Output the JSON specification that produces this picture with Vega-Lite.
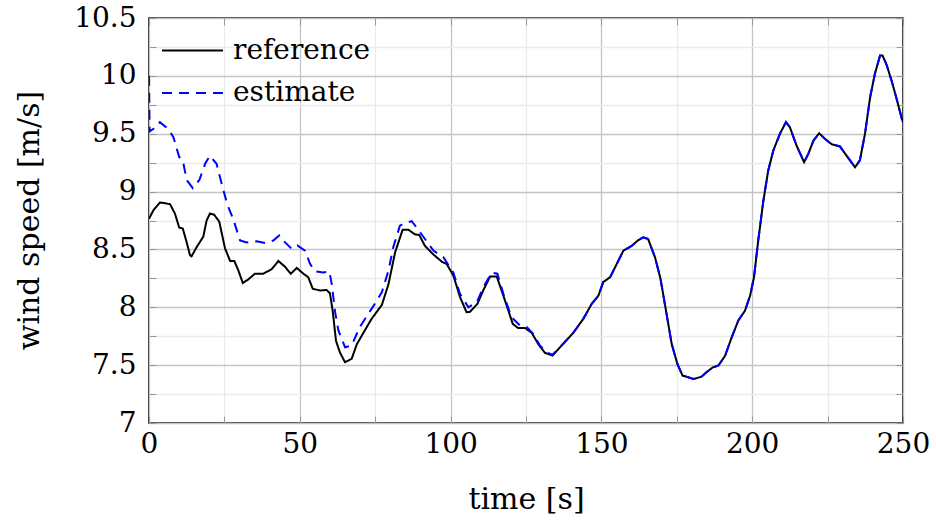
{
  "$schema": "https://vega.github.io/schema/vega-lite/v6.json",
  "width": 754,
  "height": 405,
  "autosize": {"type": "none"},
  "padding": {"left": 149, "top": 18, "right": 33, "bottom": 97},
  "background": "white",
  "config": {
    "font": "DejaVu Serif",
    "view": {"stroke": "black", "strokeWidth": 1.6},
    "legend": {
      "orient": "none",
      "legendX": 27,
      "legendY": 16,
      "symbolType": "M-2,0H2",
      "symbolSize": 930,
      "symbolStrokeWidth": 2,
      "labelFontSize": 28,
      "labelFont": "DejaVu Serif",
      "labelColor": "black",
      "labelLimit": 0,
      "labelOffset": 24,
      "rowPadding": 11.5,
      "padding": 0,
      "title": null
    }
  },
  "datasets": {
    "series": [
      {"t": 0, "v": 8.765, "s": "reference"},
      {"t": 1.5, "v": 8.84, "s": "reference"},
      {"t": 3.6, "v": 8.905, "s": "reference"},
      {"t": 5.3, "v": 8.9, "s": "reference"},
      {"t": 7, "v": 8.89, "s": "reference"},
      {"t": 8.6, "v": 8.81, "s": "reference"},
      {"t": 10, "v": 8.69, "s": "reference"},
      {"t": 11.2, "v": 8.68, "s": "reference"},
      {"t": 12.3, "v": 8.58, "s": "reference"},
      {"t": 13.6, "v": 8.45, "s": "reference"},
      {"t": 14.1, "v": 8.44, "s": "reference"},
      {"t": 15.8, "v": 8.52, "s": "reference"},
      {"t": 18, "v": 8.61, "s": "reference"},
      {"t": 19.1, "v": 8.75, "s": "reference"},
      {"t": 20.2, "v": 8.81, "s": "reference"},
      {"t": 21.6, "v": 8.8, "s": "reference"},
      {"t": 23.3, "v": 8.74, "s": "reference"},
      {"t": 25.2, "v": 8.51, "s": "reference"},
      {"t": 26.9, "v": 8.4, "s": "reference"},
      {"t": 28.3, "v": 8.4, "s": "reference"},
      {"t": 29.6, "v": 8.32, "s": "reference"},
      {"t": 31.1, "v": 8.21, "s": "reference"},
      {"t": 32.9, "v": 8.24, "s": "reference"},
      {"t": 35.1, "v": 8.29, "s": "reference"},
      {"t": 37.9, "v": 8.29, "s": "reference"},
      {"t": 40.7, "v": 8.33, "s": "reference"},
      {"t": 42.9, "v": 8.4, "s": "reference"},
      {"t": 45.1, "v": 8.35, "s": "reference"},
      {"t": 47, "v": 8.29, "s": "reference"},
      {"t": 49, "v": 8.34, "s": "reference"},
      {"t": 51.2, "v": 8.29, "s": "reference"},
      {"t": 52.8, "v": 8.26, "s": "reference"},
      {"t": 54.3, "v": 8.16, "s": "reference"},
      {"t": 56.7, "v": 8.145, "s": "reference"},
      {"t": 58.9, "v": 8.15, "s": "reference"},
      {"t": 60, "v": 8.12, "s": "reference"},
      {"t": 60.9, "v": 7.97, "s": "reference"},
      {"t": 62, "v": 7.71, "s": "reference"},
      {"t": 63.3, "v": 7.61, "s": "reference"},
      {"t": 65, "v": 7.525, "s": "reference"},
      {"t": 67.2, "v": 7.555, "s": "reference"},
      {"t": 68.9, "v": 7.68, "s": "reference"},
      {"t": 71.1, "v": 7.78, "s": "reference"},
      {"t": 73.8, "v": 7.9, "s": "reference"},
      {"t": 77.2, "v": 8.02, "s": "reference"},
      {"t": 79.4, "v": 8.2, "s": "reference"},
      {"t": 81.6, "v": 8.475, "s": "reference"},
      {"t": 84.1, "v": 8.67, "s": "reference"},
      {"t": 86, "v": 8.67, "s": "reference"},
      {"t": 88.2, "v": 8.63, "s": "reference"},
      {"t": 89.6, "v": 8.625, "s": "reference"},
      {"t": 91.5, "v": 8.53, "s": "reference"},
      {"t": 94.3, "v": 8.456, "s": "reference"},
      {"t": 97.3, "v": 8.39, "s": "reference"},
      {"t": 98.7, "v": 8.375, "s": "reference"},
      {"t": 100.9, "v": 8.275, "s": "reference"},
      {"t": 103.1, "v": 8.09, "s": "reference"},
      {"t": 105.3, "v": 7.957, "s": "reference"},
      {"t": 106.4, "v": 7.96, "s": "reference"},
      {"t": 108.9, "v": 8.03, "s": "reference"},
      {"t": 110.8, "v": 8.145, "s": "reference"},
      {"t": 113.1, "v": 8.266, "s": "reference"},
      {"t": 115.3, "v": 8.266, "s": "reference"},
      {"t": 116.9, "v": 8.145, "s": "reference"},
      {"t": 118.6, "v": 8.015, "s": "reference"},
      {"t": 120.6, "v": 7.857, "s": "reference"},
      {"t": 122.4, "v": 7.82, "s": "reference"},
      {"t": 124.7, "v": 7.82, "s": "reference"},
      {"t": 126.9, "v": 7.78, "s": "reference"},
      {"t": 129.1, "v": 7.68, "s": "reference"},
      {"t": 131.3, "v": 7.606, "s": "reference"},
      {"t": 133.8, "v": 7.583, "s": "reference"},
      {"t": 136.3, "v": 7.655, "s": "reference"},
      {"t": 140.7, "v": 7.78, "s": "reference"},
      {"t": 144, "v": 7.9, "s": "reference"},
      {"t": 146.8, "v": 8.03, "s": "reference"},
      {"t": 149, "v": 8.1, "s": "reference"},
      {"t": 150.6, "v": 8.217, "s": "reference"},
      {"t": 152.9, "v": 8.26, "s": "reference"},
      {"t": 155.1, "v": 8.375, "s": "reference"},
      {"t": 157.3, "v": 8.49, "s": "reference"},
      {"t": 160, "v": 8.53, "s": "reference"},
      {"t": 162.2, "v": 8.58, "s": "reference"},
      {"t": 163.9, "v": 8.605, "s": "reference"},
      {"t": 165.5, "v": 8.59, "s": "reference"},
      {"t": 167.8, "v": 8.43, "s": "reference"},
      {"t": 169.6, "v": 8.246, "s": "reference"},
      {"t": 171.6, "v": 7.943, "s": "reference"},
      {"t": 173.3, "v": 7.684, "s": "reference"},
      {"t": 175.2, "v": 7.51, "s": "reference"},
      {"t": 176.9, "v": 7.41, "s": "reference"},
      {"t": 178.8, "v": 7.395, "s": "reference"},
      {"t": 180.5, "v": 7.38, "s": "reference"},
      {"t": 183.2, "v": 7.4, "s": "reference"},
      {"t": 184.9, "v": 7.44, "s": "reference"},
      {"t": 186.9, "v": 7.48, "s": "reference"},
      {"t": 188.8, "v": 7.497, "s": "reference"},
      {"t": 191, "v": 7.58, "s": "reference"},
      {"t": 193.2, "v": 7.74, "s": "reference"},
      {"t": 195.4, "v": 7.886, "s": "reference"},
      {"t": 197.6, "v": 7.97, "s": "reference"},
      {"t": 199.3, "v": 8.1, "s": "reference"},
      {"t": 200.6, "v": 8.26, "s": "reference"},
      {"t": 202, "v": 8.577, "s": "reference"},
      {"t": 203.7, "v": 8.92, "s": "reference"},
      {"t": 205.3, "v": 9.18, "s": "reference"},
      {"t": 207, "v": 9.355, "s": "reference"},
      {"t": 209.2, "v": 9.5, "s": "reference"},
      {"t": 211.2, "v": 9.6, "s": "reference"},
      {"t": 212.5, "v": 9.556, "s": "reference"},
      {"t": 214.7, "v": 9.398, "s": "reference"},
      {"t": 217.2, "v": 9.254, "s": "reference"},
      {"t": 218.6, "v": 9.326, "s": "reference"},
      {"t": 220.3, "v": 9.44, "s": "reference"},
      {"t": 222.2, "v": 9.504, "s": "reference"},
      {"t": 224.1, "v": 9.456, "s": "reference"},
      {"t": 226.3, "v": 9.41, "s": "reference"},
      {"t": 229.1, "v": 9.39, "s": "reference"},
      {"t": 231.3, "v": 9.31, "s": "reference"},
      {"t": 234.1, "v": 9.21, "s": "reference"},
      {"t": 235.7, "v": 9.27, "s": "reference"},
      {"t": 237.4, "v": 9.5, "s": "reference"},
      {"t": 239.1, "v": 9.815, "s": "reference"},
      {"t": 240.7, "v": 10.02, "s": "reference"},
      {"t": 242.4, "v": 10.176, "s": "reference"},
      {"t": 243.2, "v": 10.176, "s": "reference"},
      {"t": 244.5, "v": 10.1, "s": "reference"},
      {"t": 246.2, "v": 9.96, "s": "reference"},
      {"t": 247.9, "v": 9.8, "s": "reference"},
      {"t": 249.6, "v": 9.63, "s": "reference"},
      {"t": 250, "v": 9.6, "s": "reference"},

      {"t": 0, "v": 10.0, "s": "estimate"},
      {"t": 0.2, "v": 9.52, "s": "estimate"},
      {"t": 1.4, "v": 9.54, "s": "estimate"},
      {"t": 3.6, "v": 9.6, "s": "estimate"},
      {"t": 6.4, "v": 9.54, "s": "estimate"},
      {"t": 8.1, "v": 9.47, "s": "estimate"},
      {"t": 10, "v": 9.3, "s": "estimate"},
      {"t": 11.2, "v": 9.27, "s": "estimate"},
      {"t": 12.5, "v": 9.1, "s": "estimate"},
      {"t": 14.5, "v": 9.03, "s": "estimate"},
      {"t": 16.7, "v": 9.1, "s": "estimate"},
      {"t": 18.6, "v": 9.24, "s": "estimate"},
      {"t": 20.2, "v": 9.31, "s": "estimate"},
      {"t": 22.4, "v": 9.24, "s": "estimate"},
      {"t": 24.1, "v": 9.067, "s": "estimate"},
      {"t": 25.9, "v": 8.894, "s": "estimate"},
      {"t": 27.9, "v": 8.764, "s": "estimate"},
      {"t": 30.2, "v": 8.577, "s": "estimate"},
      {"t": 32.4, "v": 8.56, "s": "estimate"},
      {"t": 35.7, "v": 8.57, "s": "estimate"},
      {"t": 38.5, "v": 8.555, "s": "estimate"},
      {"t": 41.2, "v": 8.577, "s": "estimate"},
      {"t": 43.2, "v": 8.62, "s": "estimate"},
      {"t": 44.5, "v": 8.577, "s": "estimate"},
      {"t": 47.3, "v": 8.505, "s": "estimate"},
      {"t": 49.2, "v": 8.534, "s": "estimate"},
      {"t": 51.7, "v": 8.49, "s": "estimate"},
      {"t": 53.4, "v": 8.376, "s": "estimate"},
      {"t": 55, "v": 8.31, "s": "estimate"},
      {"t": 57.8, "v": 8.3, "s": "estimate"},
      {"t": 59.8, "v": 8.31, "s": "estimate"},
      {"t": 60.6, "v": 8.2, "s": "estimate"},
      {"t": 61.7, "v": 7.96, "s": "estimate"},
      {"t": 62.8, "v": 7.8, "s": "estimate"},
      {"t": 65, "v": 7.655, "s": "estimate"},
      {"t": 67.2, "v": 7.67, "s": "estimate"},
      {"t": 69.9, "v": 7.83, "s": "estimate"},
      {"t": 72.7, "v": 7.943, "s": "estimate"},
      {"t": 74.9, "v": 8.03, "s": "estimate"},
      {"t": 77.2, "v": 8.13, "s": "estimate"},
      {"t": 79.4, "v": 8.317, "s": "estimate"},
      {"t": 81, "v": 8.52, "s": "estimate"},
      {"t": 83.2, "v": 8.706, "s": "estimate"},
      {"t": 85, "v": 8.73, "s": "estimate"},
      {"t": 87.1, "v": 8.744, "s": "estimate"},
      {"t": 88.7, "v": 8.69, "s": "estimate"},
      {"t": 91.5, "v": 8.59, "s": "estimate"},
      {"t": 94.3, "v": 8.49, "s": "estimate"},
      {"t": 97.6, "v": 8.433, "s": "estimate"},
      {"t": 100.9, "v": 8.3, "s": "estimate"},
      {"t": 103.1, "v": 8.116, "s": "estimate"},
      {"t": 105.9, "v": 8.0, "s": "estimate"},
      {"t": 108.7, "v": 8.044, "s": "estimate"},
      {"t": 110.8, "v": 8.17, "s": "estimate"},
      {"t": 113.6, "v": 8.3, "s": "estimate"},
      {"t": 115.5, "v": 8.29, "s": "estimate"},
      {"t": 117.5, "v": 8.116, "s": "estimate"},
      {"t": 120.2, "v": 7.914, "s": "estimate"},
      {"t": 123, "v": 7.843, "s": "estimate"},
      {"t": 125.2, "v": 7.83, "s": "estimate"},
      {"t": 127.4, "v": 7.77, "s": "estimate"},
      {"t": 129.6, "v": 7.67, "s": "estimate"},
      {"t": 131.9, "v": 7.61, "s": "estimate"},
      {"t": 133.8, "v": 7.59, "s": "estimate"},
      {"t": 136.3, "v": 7.655, "s": "estimate"},
      {"t": 140.7, "v": 7.78, "s": "estimate"},
      {"t": 144, "v": 7.9, "s": "estimate"},
      {"t": 146.8, "v": 8.03, "s": "estimate"},
      {"t": 149, "v": 8.1, "s": "estimate"},
      {"t": 150.6, "v": 8.217, "s": "estimate"},
      {"t": 152.9, "v": 8.26, "s": "estimate"},
      {"t": 155.1, "v": 8.375, "s": "estimate"},
      {"t": 157.3, "v": 8.49, "s": "estimate"},
      {"t": 160, "v": 8.53, "s": "estimate"},
      {"t": 162.2, "v": 8.58, "s": "estimate"},
      {"t": 163.9, "v": 8.605, "s": "estimate"},
      {"t": 165.5, "v": 8.59, "s": "estimate"},
      {"t": 167.8, "v": 8.43, "s": "estimate"},
      {"t": 169.6, "v": 8.246, "s": "estimate"},
      {"t": 171.6, "v": 7.943, "s": "estimate"},
      {"t": 173.3, "v": 7.684, "s": "estimate"},
      {"t": 175.2, "v": 7.51, "s": "estimate"},
      {"t": 176.9, "v": 7.41, "s": "estimate"},
      {"t": 178.8, "v": 7.395, "s": "estimate"},
      {"t": 180.5, "v": 7.38, "s": "estimate"},
      {"t": 183.2, "v": 7.4, "s": "estimate"},
      {"t": 184.9, "v": 7.44, "s": "estimate"},
      {"t": 186.9, "v": 7.48, "s": "estimate"},
      {"t": 188.8, "v": 7.497, "s": "estimate"},
      {"t": 191, "v": 7.58, "s": "estimate"},
      {"t": 193.2, "v": 7.74, "s": "estimate"},
      {"t": 195.4, "v": 7.886, "s": "estimate"},
      {"t": 197.6, "v": 7.97, "s": "estimate"},
      {"t": 199.3, "v": 8.1, "s": "estimate"},
      {"t": 200.6, "v": 8.26, "s": "estimate"},
      {"t": 202, "v": 8.577, "s": "estimate"},
      {"t": 203.7, "v": 8.92, "s": "estimate"},
      {"t": 205.3, "v": 9.18, "s": "estimate"},
      {"t": 207, "v": 9.355, "s": "estimate"},
      {"t": 209.2, "v": 9.5, "s": "estimate"},
      {"t": 211.2, "v": 9.6, "s": "estimate"},
      {"t": 212.5, "v": 9.556, "s": "estimate"},
      {"t": 214.7, "v": 9.398, "s": "estimate"},
      {"t": 217.2, "v": 9.254, "s": "estimate"},
      {"t": 218.6, "v": 9.326, "s": "estimate"},
      {"t": 220.3, "v": 9.44, "s": "estimate"},
      {"t": 222.2, "v": 9.504, "s": "estimate"},
      {"t": 224.1, "v": 9.456, "s": "estimate"},
      {"t": 226.3, "v": 9.41, "s": "estimate"},
      {"t": 229.1, "v": 9.39, "s": "estimate"},
      {"t": 231.3, "v": 9.31, "s": "estimate"},
      {"t": 234.1, "v": 9.21, "s": "estimate"},
      {"t": 235.7, "v": 9.27, "s": "estimate"},
      {"t": 237.4, "v": 9.5, "s": "estimate"},
      {"t": 239.1, "v": 9.815, "s": "estimate"},
      {"t": 240.7, "v": 10.02, "s": "estimate"},
      {"t": 242.4, "v": 10.176, "s": "estimate"},
      {"t": 243.2, "v": 10.176, "s": "estimate"},
      {"t": 244.5, "v": 10.1, "s": "estimate"},
      {"t": 246.2, "v": 9.96, "s": "estimate"},
      {"t": 247.9, "v": 9.8, "s": "estimate"},
      {"t": 249.6, "v": 9.63, "s": "estimate"},
      {"t": 250, "v": 9.6, "s": "estimate"}
    ]
  },
  "data": {"name": "series"},
  "resolve": {"axis": {"x": "independent", "y": "independent"}},
  "layer": [
    {
      "transform": [{"filter": "datum.s === 'reference'"}],
      "mark": {"type": "line", "strokeWidth": 2, "clip": true},
      "encoding": {
        "x": {
          "field": "t", "type": "quantitative",
          "scale": {"domain": [0, 250], "nice": false, "zero": false},
          "axis": {
            "orient": "bottom",
            "title": "time [s]",
            "values": [0, 25, 50, 75, 100, 125, 150, 175, 200, 225, 250],
            "format": "~r",
            "labelExpr": "datum.value % 50 === 0 ? datum.label : ''",
            "labelFontSize": 28,
            "labelFont": "DejaVu Serif",
            "labelColor": "black",
            "labelPadding": 14,
            "labelFlush": false,
            "labelOverlap": false,
            "domain": false,
            "ticks": true,
            "tickSize": -7,
            "tickColor": "#9a9a9a",
            "tickWidth": 1,
            "grid": true,
            "gridColor": {"condition": {"test": "datum.value % 50 === 0", "value": "#c4c4c4"}, "value": "#ebebeb"},
            "gridWidth": 1.3,
            "titleFontSize": 30,
            "titleFont": "DejaVu Serif",
            "titleFontWeight": "normal",
            "titleColor": "black",
            "titleX": 377,
            "titleY": 76,
            "titleBaseline": "middle",
            "titleAlign": "center"
          }
        },
        "y": {
          "field": "v", "type": "quantitative",
          "scale": {"domain": [7, 10.5], "nice": false, "zero": false},
          "axis": {
            "orient": "left",
            "title": "wind speed [m/s]",
            "values": [7, 7.25, 7.5, 7.75, 8, 8.25, 8.5, 8.75, 9, 9.25, 9.5, 9.75, 10, 10.25, 10.5],
            "format": "~r",
            "labelExpr": "datum.value % 0.5 === 0 ? datum.label : ''",
            "labelFontSize": 28,
            "labelFont": "DejaVu Serif",
            "labelColor": "black",
            "labelPadding": 20,
            "labelFlush": false,
            "labelOverlap": false,
            "domain": false,
            "ticks": true,
            "tickSize": -7,
            "tickColor": "#9a9a9a",
            "tickWidth": 1,
            "grid": true,
            "gridColor": {"condition": {"test": "datum.value % 0.5 === 0", "value": "#c4c4c4"}, "value": "#ebebeb"},
            "gridWidth": 1.3,
            "titleFontSize": 30,
            "titleFont": "DejaVu Serif",
            "titleFontWeight": "normal",
            "titleColor": "black",
            "titleX": -120,
            "titleY": 202,
            "titleAngle": -90,
            "titleBaseline": "middle",
            "titleAlign": "center"
          }
        },
        "color": {
          "field": "s", "type": "nominal",
          "scale": {"domain": ["reference", "estimate"], "range": ["black", "blue"]},
          "legend": {"title": null}
        },
        "strokeDash": {
          "field": "s", "type": "nominal",
          "scale": {"domain": ["reference", "estimate"], "range": [[1, 0], [10, 7]]},
          "legend": {"title": null}
        }
      }
    },
    {
      "transform": [{"filter": "datum.s === 'estimate'"}],
      "mark": {"type": "line", "strokeWidth": 2, "clip": true},
      "encoding": {
        "x": {
          "field": "t", "type": "quantitative",
          "scale": {"domain": [0, 250], "nice": false, "zero": false},
          "axis": {
            "orient": "top",
            "title": null,
            "values": [0, 25, 50, 75, 100, 125, 150, 175, 200, 225, 250],
            "labels": false,
            "domain": false,
            "grid": false,
            "ticks": true,
            "tickSize": -7,
            "tickColor": "#9a9a9a",
            "tickWidth": 1
          }
        },
        "y": {
          "field": "v", "type": "quantitative",
          "scale": {"domain": [7, 10.5], "nice": false, "zero": false},
          "axis": {
            "orient": "right",
            "title": null,
            "values": [7, 7.25, 7.5, 7.75, 8, 8.25, 8.5, 8.75, 9, 9.25, 9.5, 9.75, 10, 10.25, 10.5],
            "labels": false,
            "domain": false,
            "grid": false,
            "ticks": true,
            "tickSize": -7,
            "tickColor": "#9a9a9a",
            "tickWidth": 1
          }
        },
        "color": {
          "field": "s", "type": "nominal",
          "scale": {"domain": ["reference", "estimate"], "range": ["black", "blue"]},
          "legend": {"title": null}
        },
        "strokeDash": {
          "field": "s", "type": "nominal",
          "scale": {"domain": ["reference", "estimate"], "range": [[1, 0], [10, 7]]},
          "legend": {"title": null}
        }
      }
    }
  ]
}
